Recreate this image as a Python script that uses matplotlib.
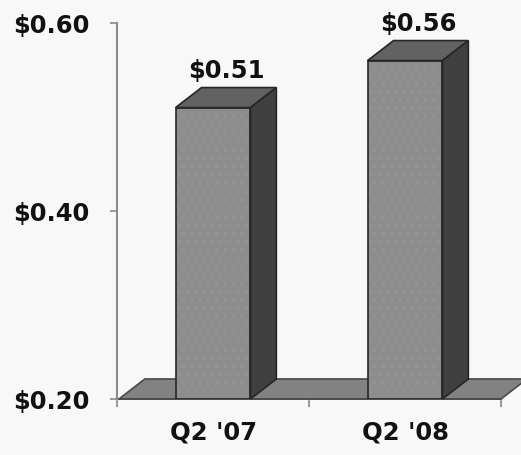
import matplotlib
matplotlib.use("Agg")
import matplotlib.pyplot as plt
from matplotlib.patches import Polygon

# Earnings per share by quarter
categories = ["Q2 '07", "Q2 '08"]
values = [0.51, 0.56]
value_labels = ["$0.51", "$0.56"]
y_ticks = [0.20, 0.40, 0.60]
y_tick_labels = ["$0.20", "$0.40", "$0.60"]

W, H = 521, 456
BG = "#f8f8f8"
FRONT = "#8d8d8d"
TOP = "#626262"
SIDE = "#404040"
FLOOR = "#828282"
EDGE = "#262626"

plt.rcParams["hatch.linewidth"] = 0.5
FONT = dict(family="DejaVu Sans", weight="bold", size=17.5, color="#111111")

fig = plt.figure(figsize=(W / 100, H / 100), dpi=100, facecolor=BG)
ax = fig.add_axes([117 / W, 56 / H, 384 / W, 376 / H])
ax.set_facecolor(BG)
ax.set_xlim(-0.5, 1.5)
ax.set_ylim(0.2, 0.6)

# depth of the 3-D extrusion, in data units
dx = 0.135
dy = 0.0213
bw = 0.39
base = y_ticks[0]

# floor
floor = Polygon([(-0.49, base), (1.5, base), (1.5 + dx, base + dy), (-0.49 + dx, base + dy)],
                closed=True, facecolor=FLOOR, edgecolor="#4a4a4a", lw=1.2,
                zorder=1, clip_on=False)
ax.add_patch(floor)

xs = list(range(len(categories)))
heights = [v - base for v in values]

# front faces with a faint stipple, then the outlines
ax.bar(xs, heights, bottom=base, width=bw, color=FRONT, hatch="..",
       edgecolor="#969a92", linewidth=0, zorder=3)
ax.bar(xs, heights, bottom=base, width=bw, fill=False,
       edgecolor=EDGE, linewidth=1.2, zorder=4)

for x, v, lab in zip(xs, values, value_labels):
    l, r = x - bw / 2, x + bw / 2
    top = Polygon([(l, v), (r, v), (r + dx, v + dy), (l + dx, v + dy)], closed=True,
                  facecolor=TOP, edgecolor=EDGE, lw=1.2, zorder=3, clip_on=False)
    side = Polygon([(r, base), (r + dx, base + dy), (r + dx, v + dy), (r, v)], closed=True,
                   facecolor=SIDE, edgecolor=EDGE, lw=1.2, zorder=3, clip_on=False)
    ax.add_patch(top)
    ax.add_patch(side)
    ax.annotate(lab, xy=(x + dx / 2, v + dy), xytext=(0, 4), textcoords="offset points",
                ha="center", va="bottom", **FONT, zorder=5)

# axes styling
for s in ("top", "right"):
    ax.spines[s].set_visible(False)
ax.spines["left"].set_color("#8a8a8a")
ax.spines["left"].set_linewidth(1.5)
ax.spines["bottom"].set_color("#4a4a4a")
ax.spines["bottom"].set_linewidth(1.2)
ax.spines["bottom"].set_zorder(2)

ax.set_yticks(y_ticks)
ax.set_yticklabels(y_tick_labels, fontdict=FONT)
ax.tick_params(axis="y", direction="out", length=5, width=1.2, color="#8a8a8a", pad=15)

ax.set_xticks([-0.5, 0.5, 1.5])
ax.set_xticklabels([])
ax.tick_params(axis="x", which="major", direction="out", length=6, width=1.2, color="#8a8a8a")
ax.set_xticks(xs, minor=True)
ax.set_xticklabels(categories, minor=True, fontdict=FONT)
ax.tick_params(axis="x", which="minor", length=0, pad=15)

fig.savefig("out.png", dpi=100, facecolor=BG)
